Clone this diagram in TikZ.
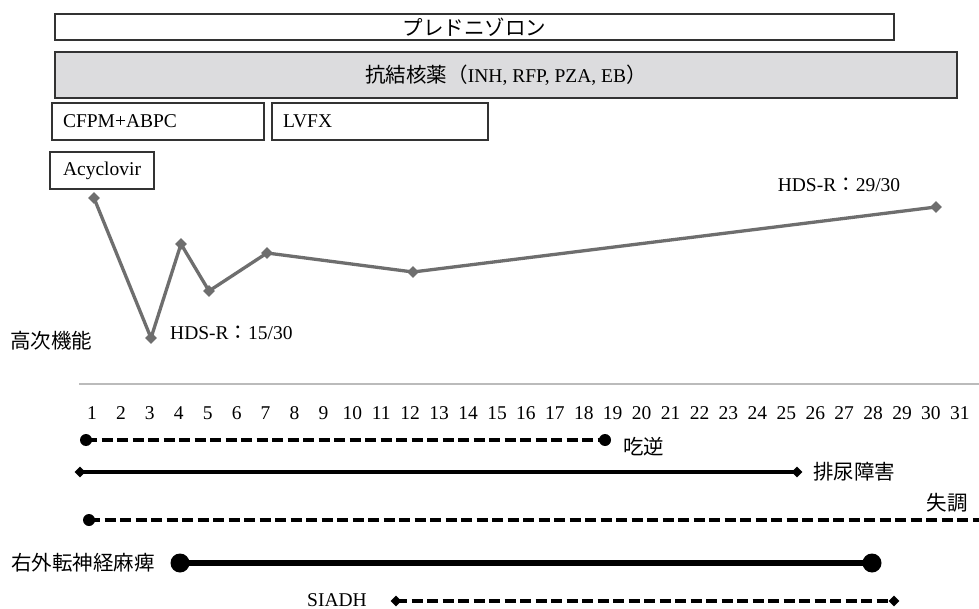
\documentclass[tikz,border=0pt]{standalone}
\usepackage{fontspec}
\setmainfont{Liberation Serif}
\newfontfamily\jp{Noto Sans CJK JP}
\usetikzlibrary{shapes.geometric}
\definecolor{boxline}{HTML}{333333}
\definecolor{tbfill}{HTML}{DCDCDE}
\definecolor{chartgray}{HTML}{6E6E6E}
\definecolor{axisgray}{HTML}{BBBBBB}
\tikzset{
  drugbox/.style={draw=boxline, line width=1.2pt, rectangle, inner ysep=0pt, font=\fontsize{19.5}{21}\selectfont},
  lat/.style={font=\fontsize{19.5}{21}\selectfont, inner sep=0pt},
  jtxt/.style={font=\fontsize{20.5}{22}\selectfont\jp, inner sep=0pt},
  cline/.style={draw=chartgray, line width=3.3pt, line join=round},
  cmark/.style={diamond, fill=chartgray, inner sep=0pt, minimum size=12pt},
  solidrow/.style={draw=black, line width=3.5pt},
  thickrow/.style={draw=black, line width=5.5pt},
  dashrow/.style={draw=black, line width=3.5pt, dash pattern=on 11pt off 4.5pt},
  dotsm/.style={circle, fill=black, inner sep=0pt, minimum size=12pt},
  dotbig/.style={circle, fill=black, inner sep=0pt, minimum size=19pt},
  dmd/.style={diamond, fill=black, inner sep=0pt, minimum size=11pt},
}
\begin{document}
\begin{tikzpicture}[x=1pt, y=-1pt]
\useasboundingbox (0,0) rectangle (979,609);
\fill[white] (0,0) rectangle (979,609);

% drug boxes
\node[drugbox, minimum width=839pt, minimum height=26pt] (pred) at (474.5,27) {\fontsize{20.5}{22}\selectfont\jp プレドニゾロン};
\node[drugbox, fill=tbfill, minimum width=902pt, minimum height=46pt] (tb) at (506,75) {{\fontsize{20.5}{22}\selectfont\jp 抗結核薬（}INH, RFP, PZA, EB{\fontsize{20.5}{22}\selectfont\jp ）}};
\node[drugbox, minimum width=212pt, minimum height=37pt, inner xsep=11pt, text width=190pt, align=left] (cfpm) at (158,121.5) {CFPM+ABPC};
\node[drugbox, minimum width=216pt, minimum height=37pt, inner xsep=11pt, text width=194pt, align=left] (lvfx) at (380,121.5) {LVFX};
\node[drugbox, minimum width=104pt, minimum height=37pt] (acv) at (102,170.5) {Acyclovir};

% HDS-R chart
\coordinate (c1) at (94,198);
\coordinate (c3) at (151,338);
\coordinate (c4) at (181,244);
\coordinate (c5) at (209,291);
\coordinate (c7) at (267,253);
\coordinate (c12) at (413,272);
\coordinate (c30) at (936,207);
\draw[cline] (c1) -- (c3) -- (c4) -- (c5) -- (c7) -- (c12) -- (c30);
\foreach \p in {c1,c3,c4,c5,c7,c12,c30} \node[cmark] (m\p) at (\p) {};
\node[lat, anchor=west] (hds15) at (170,333) {HDS-R{\jp ：}15/30};
\node[lat] (hds29) at (839,185) {HDS-R{\jp ：}29/30};
\node[jtxt, anchor=west] (koji) at (10,341) {高次機能};

% axis
\coordinate (axL) at (79,384);
\coordinate (axR) at (979,384);
\draw[axisgray, line width=1.3pt] (axL) -- (axR);
\foreach \n in {1,...,31} \node[lat] (num\n) at ({92+28.93*(\n-1)},413) {\n};

% rows
\node[dotsm] (r1a) at (86,440) {};
\node[dotsm] (r1b) at (605,440) {};
\draw[dashrow] (r1a.center) -- (r1b.center);
\node[jtxt, anchor=west] (l1) at (623,447) {吃逆};

\node[dmd] (r2a) at (80,472) {};
\node[dmd] (r2b) at (797,472) {};
\draw[solidrow] (r2a.center) -- (r2b.center);
\node[jtxt, anchor=west] (l2) at (813,472) {排尿障害};

\node[dotsm] (r3a) at (89,520) {};
\node[dotsm] (r3b) at (986,520) {};
\draw[dashrow] (r3a.center) -- (r3b.center);
\node[jtxt] (l3) at (947,503) {失調};

\node[dotbig] (r4a) at (180,563) {};
\node[dotbig] (r4b) at (872,563) {};
\draw[thickrow] (r4a.center) -- (r4b.center);
\node[jtxt, anchor=east] (l4) at (155,563) {右外転神経麻痺};

\node[dmd] (r5a) at (396,601) {};
\node[dmd] (r5b) at (894,601) {};
\draw[dashrow] (r5a.center) -- (r5b.center);
\node[lat, anchor=east] (l5) at (367,600) {SIADH};
\end{tikzpicture}
\end{document}
